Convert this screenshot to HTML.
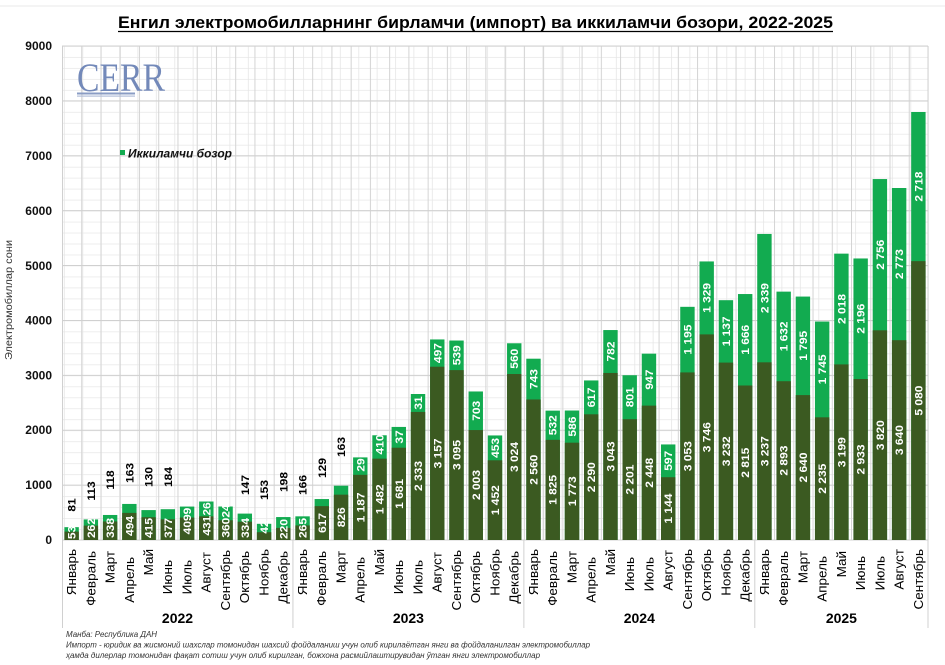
<!DOCTYPE html>
<html><head><meta charset="utf-8">
<style>
html,body{margin:0;padding:0;background:#fff;}
svg{display:block;font-family:"Liberation Sans",Arial,sans-serif;}
.w{font-weight:bold;font-size:11px;fill:#fff;text-anchor:middle;}
.b{font-weight:bold;font-size:11px;fill:#000;text-anchor:middle;}
.m{font-size:12.5px;fill:#000;text-anchor:end;}
.t{font-weight:bold;font-size:12px;fill:#111;text-anchor:end;}
.yr{font-weight:bold;font-size:14px;fill:#000;text-anchor:middle;}
.fn{font-style:italic;font-size:8px;fill:#333;}
.g{fill:#12ab50;}
.d{fill:#3b5a21;}
</style></head><body>
<svg width="945" height="665" viewBox="0 0 945 665" xmlns="http://www.w3.org/2000/svg">
<defs>
<pattern id="mh" x="0" y="46" width="945" height="10.978" patternUnits="userSpaceOnUse"><rect x="0" y="0" width="945" height="0.8" fill="#e9e9e9"/></pattern>
<pattern id="mv" x="8.7" y="0" width="18.4" height="665" patternUnits="userSpaceOnUse"><rect x="0" y="0" width="0.8" height="665" fill="#e6e6e6"/></pattern>
<pattern id="cv" x="62" y="0" width="19.2444" height="665" patternUnits="userSpaceOnUse"><rect x="0" y="0" width="1" height="665" fill="#d4d4d4"/></pattern>
</defs>
<rect width="945" height="665" fill="#fff"/>
<line x1="0" y1="6" x2="945" y2="6" stroke="#e8e8e8" stroke-width="1"/>

<!-- title -->
<text x="475.5" y="28" text-anchor="middle" font-weight="bold" font-size="17" textLength="715" lengthAdjust="spacingAndGlyphs" fill="#000">Енгил электромобилларнинг бирламчи (импорт) ва иккиламчи бозори, 2022-2025</text>
<line x1="118" y1="31.5" x2="833" y2="31.5" stroke="#000" stroke-width="1.2"/>

<!-- grid -->
<rect x="62" y="46" width="866" height="494" fill="url(#mh)"/>
<rect x="62" y="46" width="866" height="494" fill="url(#mv)"/>
<rect x="62" y="46" width="866.6" height="494" fill="url(#cv)"/>
<g stroke="#d0d0d0" stroke-width="1">
<line x1="62" y1="46" x2="928" y2="46"/>
<line x1="62" y1="100.89" x2="928" y2="100.89"/>
<line x1="62" y1="155.78" x2="928" y2="155.78"/>
<line x1="62" y1="210.67" x2="928" y2="210.67"/>
<line x1="62" y1="265.56" x2="928" y2="265.56"/>
<line x1="62" y1="320.44" x2="928" y2="320.44"/>
<line x1="62" y1="375.33" x2="928" y2="375.33"/>
<line x1="62" y1="430.22" x2="928" y2="430.22"/>
<line x1="62" y1="485.11" x2="928" y2="485.11"/>
<line x1="62" y1="540" x2="928" y2="540"/>
<line x1="62.5" y1="46" x2="62.5" y2="628"/>
<line x1="292.93" y1="540" x2="292.93" y2="628"/>
<line x1="523.87" y1="540" x2="523.87" y2="628"/>
<line x1="754.8" y1="540" x2="754.8" y2="628"/>
<line x1="928" y1="46" x2="928" y2="628"/>
</g>

<!-- logo -->
<text x="77" y="91" font-family="Liberation Serif,serif" font-size="40" fill="#7389b9" textLength="88" lengthAdjust="spacingAndGlyphs">CERR</text>
<rect x="77" y="92.5" width="58" height="2" fill="#8a9cc4"/>
<rect x="77" y="95.5" width="58" height="1.2" fill="#b3bfd9"/>

<!-- legend -->
<rect x="120" y="150" width="5" height="5" fill="#12ab50"/>
<text x="128" y="157.5" font-weight="bold" font-style="italic" font-size="12" textLength="104" lengthAdjust="spacingAndGlyphs" fill="#111">Иккиламчи бозор</text>

<!-- y axis -->
<text class="t" x="52" y="50">9000</text>
<text class="t" x="52" y="105">8000</text>
<text class="t" x="52" y="160">7000</text>
<text class="t" x="52" y="215">6000</text>
<text class="t" x="52" y="270">5000</text>
<text class="t" x="52" y="324.5">4000</text>
<text class="t" x="52" y="379.5">3000</text>
<text class="t" x="52" y="434">2000</text>
<text class="t" x="52" y="489">1000</text>
<text class="t" x="52" y="544">0</text>
<text transform="translate(12,300) rotate(-90)" text-anchor="middle" font-size="10" textLength="120" lengthAdjust="spacingAndGlyphs" fill="#333">Электромобиллар сони</text>

<!-- bars: green (total) then dark -->
<g>
<rect class="g" x="64.42" y="527.16" width="14.4" height="12.84"/><rect class="d" x="64.42" y="531.6" width="14.4" height="8.4"/>
<rect class="g" x="83.67" y="519.42" width="14.4" height="20.58"/><rect class="d" x="83.67" y="525.62" width="14.4" height="14.38"/>
<rect class="g" x="102.91" y="514.97" width="14.4" height="25.03"/><rect class="d" x="102.91" y="521.45" width="14.4" height="18.55"/>
<rect class="g" x="122.16" y="503.94" width="14.4" height="36.06"/><rect class="d" x="122.16" y="512.88" width="14.4" height="27.12"/>
<rect class="g" x="141.4" y="510.09" width="14.4" height="29.91"/><rect class="d" x="141.4" y="517.22" width="14.4" height="22.78"/>
<rect class="g" x="160.64" y="509.21" width="14.4" height="30.79"/><rect class="d" x="160.64" y="519.31" width="14.4" height="20.69"/>
<rect class="g" x="179.89" y="506.57" width="14.4" height="33.43"/><rect class="d" x="179.89" y="517.55" width="14.4" height="22.45"/>
<rect class="g" x="199.13" y="501.52" width="14.4" height="38.48"/><rect class="d" x="199.13" y="516.34" width="14.4" height="23.66"/>
<rect class="g" x="218.38" y="506.52" width="14.4" height="33.48"/><rect class="d" x="218.38" y="520.24" width="14.4" height="19.76"/>
<rect class="g" x="237.62" y="513.6" width="14.4" height="26.4"/><rect class="d" x="237.62" y="521.67" width="14.4" height="18.33"/>
<rect class="g" x="256.87" y="523.81" width="14.4" height="16.19"/><rect class="d" x="256.87" y="532.21" width="14.4" height="7.79"/>
<rect class="g" x="276.11" y="517.06" width="14.4" height="22.94"/><rect class="d" x="276.11" y="527.92" width="14.4" height="12.08"/>
<rect class="g" x="295.36" y="516.34" width="14.4" height="23.66"/><rect class="d" x="295.36" y="525.45" width="14.4" height="14.55"/>
<rect class="g" x="314.6" y="499.05" width="14.4" height="40.95"/><rect class="d" x="314.6" y="506.13" width="14.4" height="33.87"/>
<rect class="g" x="333.84" y="485.71" width="14.4" height="54.29"/><rect class="d" x="333.84" y="494.66" width="14.4" height="45.34"/>
<rect class="g" x="353.09" y="457.39" width="14.4" height="82.61"/><rect class="d" x="353.09" y="474.85" width="14.4" height="65.15"/>
<rect class="g" x="372.33" y="435.27" width="14.4" height="104.73"/><rect class="d" x="372.33" y="458.65" width="14.4" height="81.35"/>
<rect class="g" x="391.58" y="426.93" width="14.4" height="113.07"/><rect class="d" x="391.58" y="447.73" width="14.4" height="92.27"/>
<rect class="g" x="410.82" y="394" width="14.4" height="146"/><rect class="d" x="410.82" y="411.94" width="14.4" height="128.06"/>
<rect class="g" x="430.07" y="339.44" width="14.4" height="200.56"/><rect class="d" x="430.07" y="366.72" width="14.4" height="173.28"/>
<rect class="g" x="449.31" y="340.53" width="14.4" height="199.47"/><rect class="d" x="449.31" y="370.12" width="14.4" height="169.88"/>
<rect class="g" x="468.56" y="391.47" width="14.4" height="148.53"/><rect class="d" x="468.56" y="430.06" width="14.4" height="109.94"/>
<rect class="g" x="487.8" y="435.44" width="14.4" height="104.56"/><rect class="d" x="487.8" y="460.3" width="14.4" height="79.7"/>
<rect class="g" x="507.04" y="343.28" width="14.4" height="196.72"/><rect class="d" x="507.04" y="374.02" width="14.4" height="165.98"/>
<rect class="g" x="526.29" y="358.7" width="14.4" height="181.3"/><rect class="d" x="526.29" y="399.48" width="14.4" height="140.52"/>
<rect class="g" x="545.53" y="410.63" width="14.4" height="129.37"/><rect class="d" x="545.53" y="439.83" width="14.4" height="100.17"/>
<rect class="g" x="564.78" y="410.52" width="14.4" height="129.48"/><rect class="d" x="564.78" y="442.68" width="14.4" height="97.32"/>
<rect class="g" x="584.02" y="380.44" width="14.4" height="159.56"/><rect class="d" x="584.02" y="414.3" width="14.4" height="125.7"/>
<rect class="g" x="603.27" y="330.05" width="14.4" height="209.95"/><rect class="d" x="603.27" y="372.97" width="14.4" height="167.03"/>
<rect class="g" x="622.51" y="375.22" width="14.4" height="164.78"/><rect class="d" x="622.51" y="419.19" width="14.4" height="120.81"/>
<rect class="g" x="641.76" y="353.65" width="14.4" height="186.35"/><rect class="d" x="641.76" y="405.63" width="14.4" height="134.37"/>
<rect class="g" x="661" y="444.44" width="14.4" height="95.56"/><rect class="d" x="661" y="477.21" width="14.4" height="62.79"/>
<rect class="g" x="680.24" y="306.83" width="14.4" height="233.17"/><rect class="d" x="680.24" y="372.42" width="14.4" height="167.58"/>
<rect class="g" x="699.49" y="261.44" width="14.4" height="278.56"/><rect class="d" x="699.49" y="334.39" width="14.4" height="205.61"/>
<rect class="g" x="718.73" y="300.19" width="14.4" height="239.81"/><rect class="d" x="718.73" y="362.6" width="14.4" height="177.4"/>
<rect class="g" x="737.98" y="294.04" width="14.4" height="245.96"/><rect class="d" x="737.98" y="385.49" width="14.4" height="154.51"/>
<rect class="g" x="757.22" y="233.94" width="14.4" height="306.06"/><rect class="d" x="757.22" y="362.32" width="14.4" height="177.68"/>
<rect class="g" x="776.47" y="291.63" width="14.4" height="248.37"/><rect class="d" x="776.47" y="381.21" width="14.4" height="158.79"/>
<rect class="g" x="795.71" y="296.57" width="14.4" height="243.43"/><rect class="d" x="795.71" y="395.09" width="14.4" height="144.91"/>
<rect class="g" x="814.96" y="321.54" width="14.4" height="218.46"/><rect class="d" x="814.96" y="417.32" width="14.4" height="122.68"/>
<rect class="g" x="834.2" y="253.64" width="14.4" height="286.36"/><rect class="d" x="834.2" y="364.41" width="14.4" height="175.59"/>
<rect class="g" x="853.44" y="258.47" width="14.4" height="281.53"/><rect class="d" x="853.44" y="379.01" width="14.4" height="160.99"/>
<rect class="g" x="872.69" y="179.05" width="14.4" height="360.95"/><rect class="d" x="872.69" y="330.32" width="14.4" height="209.68"/>
<rect class="g" x="891.93" y="188" width="14.4" height="352"/><rect class="d" x="891.93" y="340.2" width="14.4" height="199.8"/>
<rect class="g" x="911.18" y="111.98" width="14.4" height="428.02"/><rect class="d" x="911.18" y="261.16" width="14.4" height="278.84"/>
</g>

<!-- dark segment labels -->
<g>
<text class="w" transform="translate(75.6,532.5) rotate(-90) scale(1.09,1)">53</text>
<text class="w" transform="translate(94.9,528) rotate(-90) scale(1.09,1)">262</text>
<text class="w" transform="translate(114.1,528) rotate(-90) scale(1.09,1)">338</text>
<text class="w" transform="translate(133.4,526) rotate(-90) scale(1.09,1)">494</text>
<text class="w" transform="translate(152.6,528) rotate(-90) scale(1.09,1)">415</text>
<text class="w" transform="translate(171.8,528) rotate(-90) scale(1.09,1)">377</text>
<text class="w" transform="translate(191.1,521) rotate(-90) scale(1.09,1)">4099</text>
<text class="w" transform="translate(210.3,519) rotate(-90) scale(1.09,1)">43126</text>
<text class="w" transform="translate(229.6,521) rotate(-90) scale(1.09,1)">36024</text>
<text class="w" transform="translate(248.8,528) rotate(-90) scale(1.09,1)">334</text>
<text class="w" transform="translate(268.1,527) rotate(-90) scale(1.09,1)">42</text>
<text class="w" transform="translate(287.3,529) rotate(-90) scale(1.09,1)">220</text>
<text class="w" transform="translate(306.6,528) rotate(-90) scale(1.09,1)">265</text>
<text class="w" transform="translate(325.8,523) rotate(-90) scale(1.09,1)">617</text>
<text class="w" transform="translate(345,517.3) rotate(-90) scale(1.09,1)">826</text>
<text class="w" transform="translate(364.3,507.4) rotate(-90) scale(1.09,1)">1 187</text>
<text class="w" transform="translate(383.5,499.3) rotate(-90) scale(1.09,1)">1 482</text>
<text class="w" transform="translate(402.8,493.9) rotate(-90) scale(1.09,1)">1 681</text>
<text class="w" transform="translate(422,476) rotate(-90) scale(1.09,1)">2 333</text>
<text class="w" transform="translate(441.3,453.4) rotate(-90) scale(1.09,1)">3 157</text>
<text class="w" transform="translate(460.5,455) rotate(-90) scale(1.09,1)">3 095</text>
<text class="w" transform="translate(479.8,485) rotate(-90) scale(1.09,1)">2 003</text>
<text class="w" transform="translate(499,500.2) rotate(-90) scale(1.09,1)">1 452</text>
<text class="w" transform="translate(518.2,457) rotate(-90) scale(1.09,1)">3 024</text>
<text class="w" transform="translate(537.5,469.7) rotate(-90) scale(1.09,1)">2 560</text>
<text class="w" transform="translate(556.7,489.9) rotate(-90) scale(1.09,1)">1 825</text>
<text class="w" transform="translate(576,491.3) rotate(-90) scale(1.09,1)">1 773</text>
<text class="w" transform="translate(595.2,477.2) rotate(-90) scale(1.09,1)">2 290</text>
<text class="w" transform="translate(614.5,456.5) rotate(-90) scale(1.09,1)">3 043</text>
<text class="w" transform="translate(633.7,479.6) rotate(-90) scale(1.09,1)">2 201</text>
<text class="w" transform="translate(653,472.8) rotate(-90) scale(1.09,1)">2 448</text>
<text class="w" transform="translate(672.2,508.6) rotate(-90) scale(1.09,1)">1 144</text>
<text class="w" transform="translate(691.4,456.2) rotate(-90) scale(1.09,1)">3 053</text>
<text class="w" transform="translate(710.7,437.2) rotate(-90) scale(1.09,1)">3 746</text>
<text class="w" transform="translate(729.9,451.3) rotate(-90) scale(1.09,1)">3 232</text>
<text class="w" transform="translate(749.2,462.7) rotate(-90) scale(1.09,1)">2 815</text>
<text class="w" transform="translate(768.4,451.2) rotate(-90) scale(1.09,1)">3 237</text>
<text class="w" transform="translate(787.7,460.6) rotate(-90) scale(1.09,1)">2 893</text>
<text class="w" transform="translate(806.9,467.5) rotate(-90) scale(1.09,1)">2 640</text>
<text class="w" transform="translate(826.2,478.7) rotate(-90) scale(1.09,1)">2 235</text>
<text class="w" transform="translate(845.4,452.2) rotate(-90) scale(1.09,1)">3 199</text>
<text class="w" transform="translate(864.6,459.5) rotate(-90) scale(1.09,1)">2 933</text>
<text class="w" transform="translate(883.9,435.2) rotate(-90) scale(1.09,1)">3 820</text>
<text class="w" transform="translate(903.1,440.1) rotate(-90) scale(1.09,1)">3 640</text>
<text class="w" transform="translate(922.4,400.6) rotate(-90) scale(1.09,1)">5 080</text>
</g>

<!-- green segment labels -->
<g>
<text class="w" transform="translate(364.3,465) rotate(-90) scale(1.09,1)">29</text>
<text class="w" transform="translate(383.5,444.5) rotate(-90) scale(1.09,1)">410</text>
<text class="w" transform="translate(402.8,437) rotate(-90) scale(1.09,1)">37</text>
<text class="w" transform="translate(422,403) rotate(-90) scale(1.09,1)">31</text>
<text class="w" transform="translate(441.3,353.1) rotate(-90) scale(1.09,1)">497</text>
<text class="w" transform="translate(460.5,355.3) rotate(-90) scale(1.09,1)">539</text>
<text class="w" transform="translate(479.8,410.8) rotate(-90) scale(1.09,1)">703</text>
<text class="w" transform="translate(499,447.9) rotate(-90) scale(1.09,1)">453</text>
<text class="w" transform="translate(518.2,358.7) rotate(-90) scale(1.09,1)">560</text>
<text class="w" transform="translate(537.5,379.1) rotate(-90) scale(1.09,1)">743</text>
<text class="w" transform="translate(556.7,425.2) rotate(-90) scale(1.09,1)">532</text>
<text class="w" transform="translate(576,426.6) rotate(-90) scale(1.09,1)">586</text>
<text class="w" transform="translate(595.2,397.4) rotate(-90) scale(1.09,1)">617</text>
<text class="w" transform="translate(614.5,351.5) rotate(-90) scale(1.09,1)">782</text>
<text class="w" transform="translate(633.7,397.2) rotate(-90) scale(1.09,1)">801</text>
<text class="w" transform="translate(653,379.6) rotate(-90) scale(1.09,1)">947</text>
<text class="w" transform="translate(672.2,460.8) rotate(-90) scale(1.09,1)">597</text>
<text class="w" transform="translate(691.4,339.6) rotate(-90) scale(1.09,1)">1 195</text>
<text class="w" transform="translate(710.7,297.9) rotate(-90) scale(1.09,1)">1 329</text>
<text class="w" transform="translate(729.9,331.4) rotate(-90) scale(1.09,1)">1 137</text>
<text class="w" transform="translate(749.2,339.8) rotate(-90) scale(1.09,1)">1 666</text>
<text class="w" transform="translate(768.4,298.1) rotate(-90) scale(1.09,1)">2 339</text>
<text class="w" transform="translate(787.7,336.4) rotate(-90) scale(1.09,1)">1 632</text>
<text class="w" transform="translate(806.9,345.8) rotate(-90) scale(1.09,1)">1 795</text>
<text class="w" transform="translate(826.2,369.4) rotate(-90) scale(1.09,1)">1 745</text>
<text class="w" transform="translate(845.4,309) rotate(-90) scale(1.09,1)">2 018</text>
<text class="w" transform="translate(864.6,318.7) rotate(-90) scale(1.09,1)">2 196</text>
<text class="w" transform="translate(883.9,254.7) rotate(-90) scale(1.09,1)">2 756</text>
<text class="w" transform="translate(903.1,264.1) rotate(-90) scale(1.09,1)">2 773</text>
<text class="w" transform="translate(922.4,186.6) rotate(-90) scale(1.09,1)">2 718</text>
</g>

<!-- black labels above small bars -->
<g>
<text class="b" transform="translate(75.6,505) rotate(-90) scale(1.09,1)">81</text>
<text class="b" transform="translate(94.9,491) rotate(-90) scale(1.09,1)">113</text>
<text class="b" transform="translate(114.1,480) rotate(-90) scale(1.09,1)">118</text>
<text class="b" transform="translate(133.4,473) rotate(-90) scale(1.09,1)">163</text>
<text class="b" transform="translate(152.6,477) rotate(-90) scale(1.09,1)">130</text>
<text class="b" transform="translate(171.8,477) rotate(-90) scale(1.09,1)">184</text>
<text class="b" transform="translate(248.8,485) rotate(-90) scale(1.09,1)">147</text>
<text class="b" transform="translate(268.1,490) rotate(-90) scale(1.09,1)">153</text>
<text class="b" transform="translate(287.3,482) rotate(-90) scale(1.09,1)">198</text>
<text class="b" transform="translate(306.6,485) rotate(-90) scale(1.09,1)">166</text>
<text class="b" transform="translate(325.8,468) rotate(-90) scale(1.09,1)">129</text>
<text class="b" transform="translate(345,447) rotate(-90) scale(1.09,1)">163</text>
</g>

<!-- month labels -->
<g>
<text class="m" transform="translate(76,549) rotate(-90) scale(1.08,1)">Январь</text>
<text class="m" transform="translate(95.3,551) rotate(-90) scale(1.08,1)">Февраль</text>
<text class="m" transform="translate(114.5,551) rotate(-90) scale(1.08,1)">Март</text>
<text class="m" transform="translate(133.8,557) rotate(-90) scale(1.08,1)">Апрель</text>
<text class="m" transform="translate(153,549) rotate(-90) scale(1.08,1)">Май</text>
<text class="m" transform="translate(172.2,560) rotate(-90) scale(1.08,1)">Июнь</text>
<text class="m" transform="translate(191.5,560) rotate(-90) scale(1.08,1)">Июль</text>
<text class="m" transform="translate(210.7,552) rotate(-90) scale(1.08,1)">Август</text>
<text class="m" transform="translate(230,550) rotate(-90) scale(1.08,1)">Сентябрь</text>
<text class="m" transform="translate(249.2,551) rotate(-90) scale(1.08,1)">Октябрь</text>
<text class="m" transform="translate(268.5,549) rotate(-90) scale(1.08,1)">Ноябрь</text>
<text class="m" transform="translate(287.7,551) rotate(-90) scale(1.08,1)">Декабрь</text>

<text class="m" transform="translate(307,549) rotate(-90) scale(1.08,1)">Январь</text>
<text class="m" transform="translate(326.2,551) rotate(-90) scale(1.08,1)">Февраль</text>
<text class="m" transform="translate(345.4,551) rotate(-90) scale(1.08,1)">Март</text>
<text class="m" transform="translate(364.7,557) rotate(-90) scale(1.08,1)">Апрель</text>
<text class="m" transform="translate(383.9,549) rotate(-90) scale(1.08,1)">Май</text>
<text class="m" transform="translate(403.2,560) rotate(-90) scale(1.08,1)">Июнь</text>
<text class="m" transform="translate(422.4,560) rotate(-90) scale(1.08,1)">Июль</text>
<text class="m" transform="translate(441.7,552) rotate(-90) scale(1.08,1)">Август</text>
<text class="m" transform="translate(460.9,550) rotate(-90) scale(1.08,1)">Сентябрь</text>
<text class="m" transform="translate(480.2,551) rotate(-90) scale(1.08,1)">Октябрь</text>
<text class="m" transform="translate(499.4,549) rotate(-90) scale(1.08,1)">Ноябрь</text>
<text class="m" transform="translate(518.6,551) rotate(-90) scale(1.08,1)">Декабрь</text>

<text class="m" transform="translate(537.9,549) rotate(-90) scale(1.08,1)">Январь</text>
<text class="m" transform="translate(557.1,551) rotate(-90) scale(1.08,1)">Февраль</text>
<text class="m" transform="translate(576.4,551) rotate(-90) scale(1.08,1)">Март</text>
<text class="m" transform="translate(595.6,557) rotate(-90) scale(1.08,1)">Апрель</text>
<text class="m" transform="translate(614.9,549) rotate(-90) scale(1.08,1)">Май</text>
<text class="m" transform="translate(634.1,557) rotate(-90) scale(1.08,1)">Июнь</text>
<text class="m" transform="translate(653.4,557) rotate(-90) scale(1.08,1)">Июль</text>
<text class="m" transform="translate(672.6,550) rotate(-90) scale(1.08,1)">Август</text>
<text class="m" transform="translate(691.8,549) rotate(-90) scale(1.08,1)">Сентябрь</text>
<text class="m" transform="translate(711.1,549) rotate(-90) scale(1.08,1)">Октябрь</text>
<text class="m" transform="translate(730.3,549) rotate(-90) scale(1.08,1)">Ноябрь</text>
<text class="m" transform="translate(749.6,549) rotate(-90) scale(1.08,1)">Декабрь</text>

<text class="m" transform="translate(768.8,549) rotate(-90) scale(1.08,1)">Январь</text>
<text class="m" transform="translate(788.1,551) rotate(-90) scale(1.08,1)">Февраль</text>
<text class="m" transform="translate(807.3,551) rotate(-90) scale(1.08,1)">Март</text>
<text class="m" transform="translate(826.6,556) rotate(-90) scale(1.08,1)">Апрель</text>
<text class="m" transform="translate(845.8,551) rotate(-90) scale(1.08,1)">Май</text>
<text class="m" transform="translate(865,556) rotate(-90) scale(1.08,1)">Июнь</text>
<text class="m" transform="translate(884.3,556) rotate(-90) scale(1.08,1)">Июль</text>
<text class="m" transform="translate(903.5,549) rotate(-90) scale(1.08,1)">Август</text>
<text class="m" transform="translate(922.8,549) rotate(-90) scale(1.08,1)">Сентябрь</text>
</g>

<!-- year labels -->
<text class="yr" x="177.5" y="623">2022</text>
<text class="yr" x="408.4" y="623">2023</text>
<text class="yr" x="639.3" y="623">2024</text>
<text class="yr" x="841.4" y="623">2025</text>

<!-- footnotes -->
<text class="fn" x="66" y="637" textLength="91" lengthAdjust="spacingAndGlyphs">Манба: Республика ДАН</text>
<text class="fn" x="66" y="647.5" textLength="524" lengthAdjust="spacingAndGlyphs">Импорт - юридик ва жисмоний шахслар томонидан шахсий фойдаланиш учун олиб кирилаётган янги ва фойдаланилган электромобиллар</text>
<text class="fn" x="66" y="658" textLength="474" lengthAdjust="spacingAndGlyphs">ҳамда дилерлар томонидан фақат сотиш учун олиб кирилган, божхона расмийлаштирувидан ўтган янги электромобиллар</text>
</svg>
</body></html>
